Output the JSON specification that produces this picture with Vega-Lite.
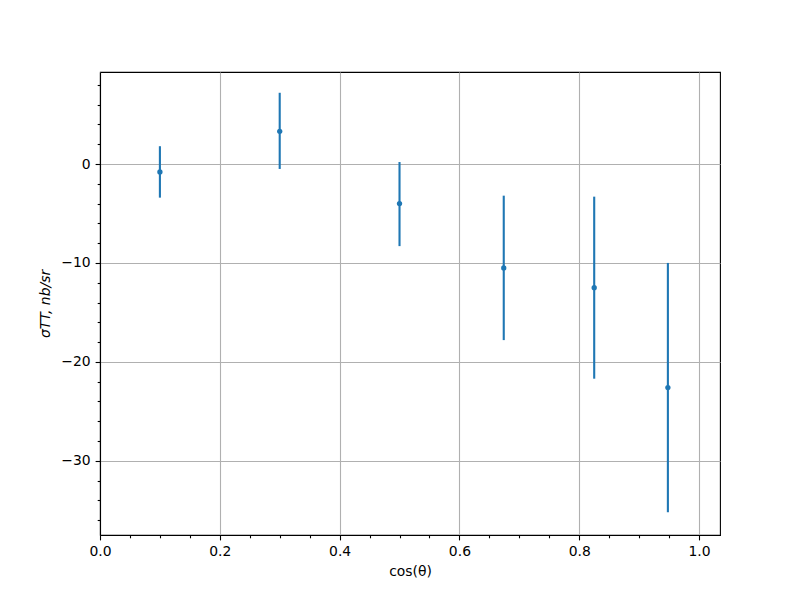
{
  "$schema": "https://vega.github.io/schema/vega-lite/v6.json",
  "width": 620,
  "height": 463,
  "autosize": "none",
  "padding": {"left": 100, "top": 72, "right": 80, "bottom": 65},
  "background": "white",
  "config": {
    "view": {"stroke": "black", "strokeWidth": 1.1},
    "axis": {
      "labelFont": "DejaVu Sans",
      "titleFont": "DejaVu Sans",
      "labelFontSize": 13.9,
      "titleFontSize": 13.9,
      "titleFontWeight": "normal",
      "labelColor": "black",
      "titleColor": "black",
      "domainColor": "black",
      "domainWidth": 1.1,
      "tickColor": "black",
      "tickWidth": 1.1,
      "gridColor": "#b0b0b0",
      "gridWidth": 1.1,
      "labelPadding": 4.9,
      "labelFlush": false,
      "labelOverlap": false
    }
  },
  "data": {
    "values": [
      {"x": 0.1, "y": -0.8, "lo": -3.4, "hi": 1.8},
      {"x": 0.3, "y": 3.3, "lo": -0.5, "hi": 7.2},
      {"x": 0.5, "y": -4.0, "lo": -8.3, "hi": 0.2},
      {"x": 0.674, "y": -10.5, "lo": -17.8, "hi": -3.2},
      {"x": 0.825, "y": -12.5, "lo": -21.7, "hi": -3.3},
      {"x": 0.948, "y": -22.6, "lo": -35.2, "hi": -10.0}
    ]
  },
  "encoding": {
    "x": {
      "field": "x",
      "type": "quantitative",
      "scale": {"domain": [0, 1.035], "nice": false, "zero": false},
      "axis": {
        "title": "cos(θ)",
        "values": [0, 0.05, 0.1, 0.15, 0.2, 0.25, 0.3, 0.35, 0.4, 0.45, 0.5, 0.55, 0.6, 0.65, 0.7, 0.75, 0.8, 0.85, 0.9, 0.95, 1.0],
        "labelExpr": "abs(datum.value*5 - round(datum.value*5)) < 1e-6 ? format(datum.value, '.1f') : ''",
        "tickSize": {"condition": {"test": "abs(datum.value*5 - round(datum.value*5)) < 1e-6", "value": 4.9}, "value": 2.8},
        "gridOpacity": {"condition": {"test": "abs(datum.value*5 - round(datum.value*5)) < 1e-6", "value": 1}, "value": 0},
        "titlePadding": 6
      }
    },
    "y": {
      "field": "y",
      "type": "quantitative",
      "scale": {"domain": [-37.5, 9.3], "nice": false, "zero": false},
      "axis": {
        "title": "σTT, nb/sr",
        "titleFontStyle": "italic",
        "values": [-36, -34, -32, -30, -28, -26, -24, -22, -20, -18, -16, -14, -12, -10, -8, -6, -4, -2, 0, 2, 4, 6, 8],
        "labelExpr": "datum.value % 10 == 0 ? replace(format(datum.value, 'd'), '-', '−') : ''",
        "tickSize": {"condition": {"test": "datum.value % 10 == 0", "value": 4.9}, "value": 2.8},
        "gridOpacity": {"condition": {"test": "datum.value % 10 == 0", "value": 1}, "value": 0},
        "titlePadding": 8
      }
    }
  },
  "layer": [
    {
      "mark": {"type": "rule", "color": "#1f77b4", "strokeWidth": 2.1},
      "encoding": {"y": {"field": "lo", "type": "quantitative"}, "y2": {"field": "hi"}}
    },
    {
      "mark": {"type": "point", "filled": true, "color": "#1f77b4", "size": 28, "opacity": 1}
    }
  ]
}
